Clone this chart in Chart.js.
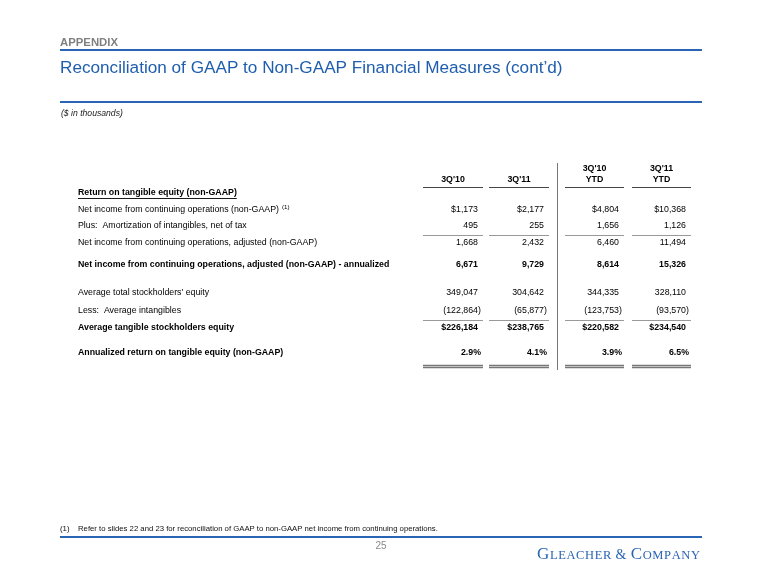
<!DOCTYPE html>
<html>
<head>
<meta charset="utf-8">
<script src="https://cdn.jsdelivr.net/npm/chart.js@4/dist/chart.umd.min.js"></script>
<style>
  html, body { margin: 0; padding: 0; background: #ffffff; }
  #wrap { position: relative; width: 760px; height: 587px; }
  canvas { display: block; }
</style>
</head>
<body>
<div id="wrap"><canvas id="c" width="760" height="587"></canvas></div>
<script>
// ---------------- DATA ----------------
const sectionLabel = "APPENDIX";
const slideTitle = "Reconciliation of GAAP to Non-GAAP Financial Measures (cont\u2019d)";
const unitsNote = "($ in thousands)";
const footnoteMark = "(1)";
const footnoteText = "Refer to slides 22 and 23 for reconciliation of GAAP to non-GAAP net income from continuing operations.";
const pageNumber = "25";
const companyName = "Gleacher & Company";

const periodHeaders = [["3Q'10"], ["3Q'11"], ["3Q'10", "YTD"], ["3Q'11", "YTD"]];

const rowLabels = [
  "Return on tangible equity (non-GAAP)",
  "Net income from continuing operations (non-GAAP)",
  "Plus:  Amortization of intangibles, net of tax",
  "Net income from continuing operations, adjusted (non-GAAP)",
  "Net income from continuing operations, adjusted (non-GAAP) - annualized",
  "Average total stockholders' equity",
  "Less:  Average intangibles",
  "Average tangible stockholders equity",
  "Annualized return on tangible equity (non-GAAP)"
];
const rowNotes = [null, "(1)", null, null, null, null, null, null, null];

const q3_2010  = [null, 1173, 495, 1668, 6671, 349047, -122864, 226184, 2.9];
const q3_2011  = [null, 2177, 255, 2432, 9729, 304642, -65877, 238765, 4.1];
const ytd_2010 = [null, 4804, 1656, 6460, 8614, 344335, -123753, 220582, 3.9];
const ytd_2011 = [null, 10368, 1126, 11494, 15326, 328110, -93570, 234540, 6.5];
const seriesValues = [q3_2010, q3_2011, ytd_2010, ytd_2011];

const rowFormats = ["none", "dollar", "number", "number", "number", "number", "number", "dollar", "percent"];
const boldRows = [0, 4, 7, 8];

// ---------------- LAYOUT / STYLE (kept apart from data) ----------------
const L = {
  font: "'Liberation Sans', Arial, sans-serif",
  tableSize: 8.8,
  rowY: [33, 50, 66, 83, 104.5, 133, 151, 168, 193],   // table units (y scale)
  headTop: 8.5, headBottom: 20, headRule: 27,
  ruleAfterRows: [2, 6], ruleOffset: 9,
  doubleRuleY: [204.5, 207], vTop: 3, vBottom: 210,
  colSpans: [[345, 405], [411, 471], [487, 546], [554, 613]],  // table units (x scale)
  digitInset: 5,
  vSep: 478.7,
  blue: "#2a64b4", titleBlue: "#1f5eae", gray: "#7f7f7f"
};

function fmt(v, kind) {
  if (v === null || v === undefined) return { body: "", tail: "" };
  if (kind === "percent") return { body: v.toFixed(1) + "%", tail: "", shift: 3 };
  const a = Math.abs(v).toLocaleString("en-US");
  const pre = kind === "dollar" ? "$" : "";
  if (v < 0) return { body: "(" + pre + a, tail: ")" };
  return { body: pre + a, tail: "" };
}

function fitFont(ctx, text, target, weight, style) {
  let size = 20;
  ctx.font = `${style || ""} ${weight || ""} ${size}px ${L.font}`;
  const w = ctx.measureText(text).width;
  size = size * target / w;
  return `${style || ""} ${weight || ""} ${size.toFixed(2)}px ${L.font}`;
}

const slidePlugin = {
  id: "slide",
  beforeDraw(chart) {
    const ctx = chart.ctx;
    ctx.save();
    ctx.fillStyle = "#fff";
    ctx.fillRect(0, 0, chart.width, chart.height);
    // header
    ctx.textBaseline = "middle";
    ctx.textAlign = "left";
    ctx.fillStyle = L.gray;
    ctx.font = fitFont(ctx, sectionLabel, 58, "bold");
    ctx.fillText(sectionLabel, 60, 43);
    ctx.fillStyle = L.titleBlue;
    ctx.font = fitFont(ctx, slideTitle, 503, "");
    ctx.fillText(slideTitle, 60, 68);
    ctx.strokeStyle = L.blue;
    ctx.lineWidth = 2;
    [50, 102, 537].forEach(y => {
      ctx.beginPath(); ctx.moveTo(60, y); ctx.lineTo(702, y); ctx.stroke();
    });
    ctx.fillStyle = "#222";
    ctx.font = fitFont(ctx, unitsNote, 62, "", "italic");
    ctx.fillText(unitsNote, 61, 114);
    // footer
    ctx.fillStyle = "#111";
    ctx.font = `7.8px ${L.font}`;
    ctx.fillText(footnoteMark, 60, 529);
    ctx.font = fitFont(ctx, footnoteText, 360, "");
    ctx.fillText(footnoteText, 78, 529);
    ctx.fillStyle = "#8a8a8a";
    ctx.textAlign = "center";
    ctx.font = `10px ${L.font}`;
    ctx.fillText(pageNumber, 381, 546);
    // company name in small caps
    ctx.textBaseline = "alphabetic";
    ctx.textAlign = "left";
    ctx.fillStyle = L.blue;
    const serif = "'Liberation Serif', 'DejaVu Serif', serif";
    const glyphs = [];
    companyName.split(" ").forEach((word, wi) => {
      if (wi > 0) glyphs.push({ c: " ", s: 12 });
      if (word === "&") { glyphs.push({ c: "&", s: 14 }); return; }
      glyphs.push({ c: word[0].toUpperCase(), s: 17 });
      for (const ch of word.slice(1).toUpperCase()) glyphs.push({ c: ch, s: 12.5 });
    });
    let total = 0;
    glyphs.forEach(g => { ctx.font = `${g.s}px ${serif}`; g.w = ctx.measureText(g.c).width; total += g.w; });
    const spacing = (163 - total) / (glyphs.length - 1);
    let x = 537;
    glyphs.forEach(g => {
      ctx.font = `${g.s}px ${serif}`;
      ctx.fillText(g.c, x, 559);
      x += g.w + spacing;
    });
    ctx.restore();
  },
  afterDatasetsDraw(chart) {
    const ctx = chart.ctx;
    const xs = chart.scales.x, ys = chart.scales.y;
    const X = v => xs.getPixelForValue(v);
    const Y = v => ys.getPixelForValue(v);
    ctx.save();
    ctx.textBaseline = "middle";
    // column headers
    ctx.fillStyle = "#000";
    ctx.font = `bold ${L.tableSize}px ${L.font}`;
    ctx.textAlign = "center";
    periodHeaders.forEach((lines, ci) => {
      const cx = (X(L.colSpans[ci][0]) + X(L.colSpans[ci][1])) / 2;
      const ypos = lines.length === 1 ? [L.headBottom] : [L.headTop, L.headBottom];
      lines.forEach((t, li) => ctx.fillText(t, cx, Y(ypos[li])));
    });
    // rules
    const hline = (yv, color, w) => {
      ctx.strokeStyle = color; ctx.lineWidth = w;
      L.colSpans.forEach(s => {
        ctx.beginPath(); ctx.moveTo(X(s[0]), Math.round(Y(yv)) + 0.5); ctx.lineTo(X(s[1]), Math.round(Y(yv)) + 0.5); ctx.stroke();
      });
    };
    hline(L.headRule, "#444", 1.2);
    L.ruleAfterRows.forEach(r => hline(L.rowY[r] + L.ruleOffset, "#999", 1));
    L.doubleRuleY.forEach(y => hline(y, "#777", 1.3));
    ctx.strokeStyle = "#777"; ctx.lineWidth = 1;
    ctx.beginPath();
    ctx.moveTo(Math.round(X(L.vSep)) + 0.5, Y(L.vTop));
    ctx.lineTo(Math.round(X(L.vSep)) + 0.5, Y(L.vBottom));
    ctx.stroke();
    // row labels
    ctx.textAlign = "left";
    const meta0 = chart.getDatasetMeta(0);
    rowLabels.forEach((label, ri) => {
      const y = meta0.data[ri].y;
      const bold = boldRows.includes(ri);
      ctx.font = `${bold ? "bold " : ""}${L.tableSize}px ${L.font}`;
      ctx.fillStyle = "#000";
      const x0 = meta0.data[ri].x;
      ctx.fillText(label, x0, y);
      const w = ctx.measureText(label).width;
      if (ri === 0) {
        ctx.strokeStyle = "#000"; ctx.lineWidth = 0.9;
        ctx.beginPath(); ctx.moveTo(x0, Math.round(y + 5) + 0.5); ctx.lineTo(x0 + w, Math.round(y + 5) + 0.5); ctx.stroke();
      }
      if (rowNotes[ri]) {
        ctx.font = `${L.tableSize * 0.7}px ${L.font}`;
        ctx.fillText(rowNotes[ri], x0 + w + 3, y - 3);
      }
    });
    // values
    seriesValues.forEach((vals, ci) => {
      const meta = chart.getDatasetMeta(ci + 1);
      vals.forEach((v, ri) => {
        if (v === null) return;
        const el = meta.data[ri];
        const f = fmt(v, rowFormats[ri]);
        ctx.font = `${boldRows.includes(ri) ? "bold " : ""}${L.tableSize}px ${L.font}`;
        ctx.fillStyle = "#000";
        ctx.textAlign = "right";
        ctx.fillText(f.body, el.x + (f.shift || 0), el.y);
        if (f.tail) { ctx.textAlign = "left"; ctx.fillText(f.tail, el.x, el.y); }
      });
    });
    ctx.restore();
  }
};

const datasets = [{
  label: "Line items",
  data: rowLabels.map((_, ri) => ({ x: 0, y: L.rowY[ri] })),
  pointRadius: 0, showLine: false
}].concat(seriesValues.map((vals, ci) => ({
  label: periodHeaders[ci].join(" "),
  data: vals.map((v, ri) => ({ x: L.colSpans[ci][1] - L.digitInset, y: L.rowY[ri] })),
  pointRadius: 0, showLine: false
})));

new Chart(document.getElementById("c"), {
  type: "scatter",
  data: { datasets },
  options: {
    responsive: false,
    animation: false,
    events: [],
    layout: { padding: { left: 78, right: 69, top: 160, bottom: 207 } },
    scales: {
      x: { type: "linear", min: 0, max: 613, display: false },
      y: { type: "linear", min: 0, max: 220, reverse: true, display: false }
    },
    plugins: { legend: { display: false }, tooltip: { enabled: false }, title: { display: false } }
  },
  plugins: [slidePlugin]
});
</script>
</body>
</html>
